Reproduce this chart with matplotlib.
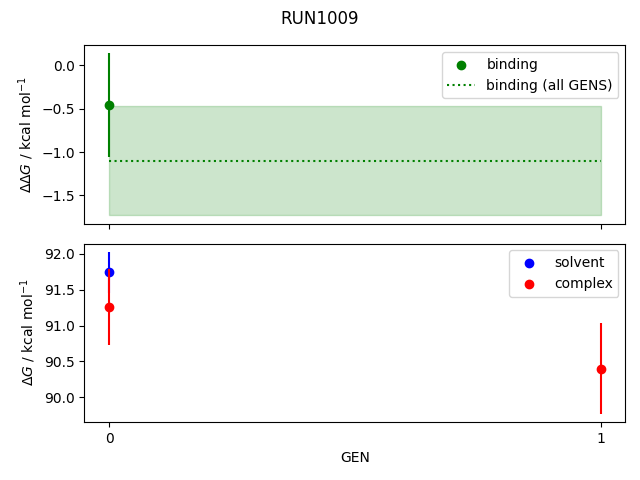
import matplotlib
matplotlib.use("Agg")
import numpy as np
import matplotlib.pyplot as plt

gens = [0, 1]
binding = [-0.46, np.nan]
binding_err = [0.60, np.nan]
binding_all = -1.10
binding_all_err = 0.63
solvent = [91.74, np.nan]
solvent_err = [0.29, np.nan]
complex_ = [91.26, 90.40]
complex_err = [0.53, 0.63]

fig, (ax1, ax2) = plt.subplots(2, 1, sharex=True, figsize=(6.4, 4.8))
fig.suptitle("RUN1009")

# binding free energy per gen
ax1.scatter(gens, binding, color="green", label="binding")
ax1.errorbar(gens, binding, yerr=binding_err, color="green", fmt="none")
ax1.hlines(binding_all, gens[0], gens[-1], color="green", linestyle=":",
           label="binding (all GENS)")
ax1.fill_between(gens, binding_all - binding_all_err,
                 binding_all + binding_all_err, color="green", alpha=0.2)
ax1.set_ylabel(r"$\Delta\Delta G$ / kcal mol$^{-1}$")
ax1.legend(loc="upper right")

# solvent / complex legs
ax2.scatter(gens, solvent, color="blue", label="solvent")
ax2.errorbar(gens, solvent, yerr=solvent_err, color="blue", fmt="none")
ax2.scatter(gens, complex_, color="red", label="complex")
ax2.errorbar(gens, complex_, yerr=complex_err, color="red", fmt="none")
ax2.set_ylabel(r"$\Delta G$ / kcal mol$^{-1}$")
ax2.set_xlabel("GEN")
ax2.set_xticks(gens)
ax2.legend(loc="upper right")

plt.subplots_adjust(left=0.132, right=0.977, top=0.906, bottom=0.121,
                    hspace=0.112)
plt.savefig("out.png", dpi=100)
